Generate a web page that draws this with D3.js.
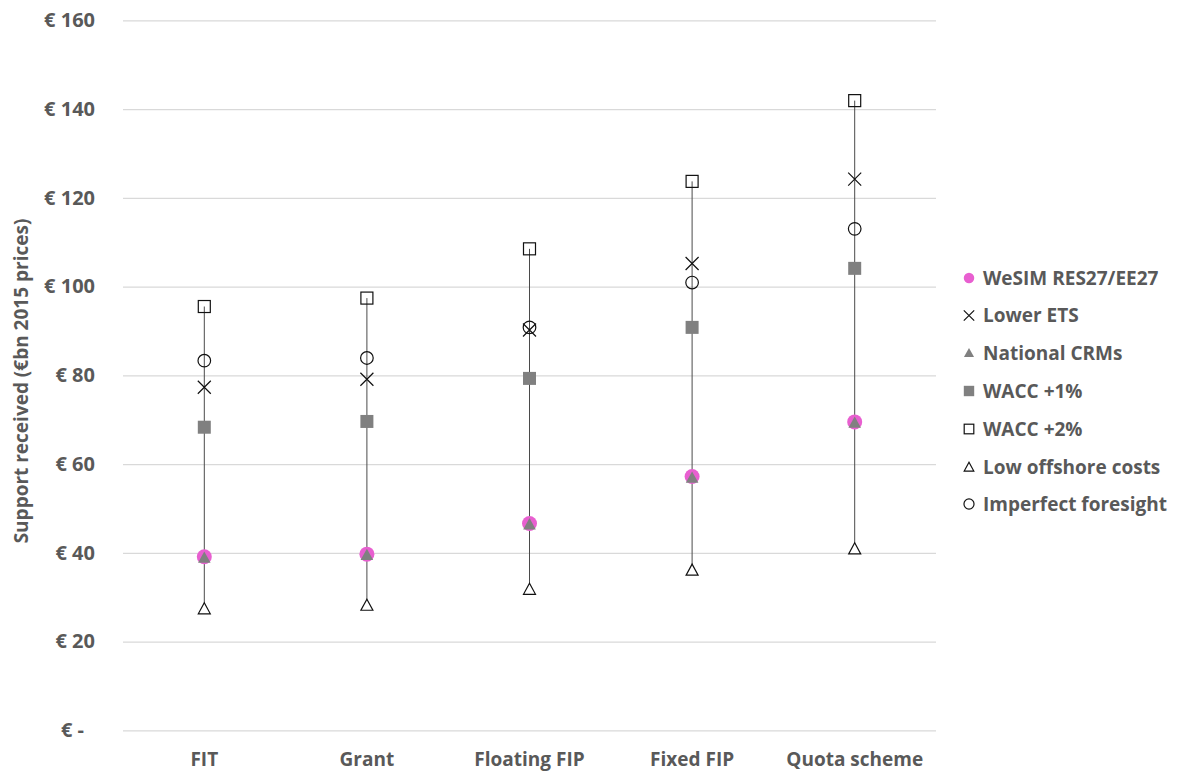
<!DOCTYPE html>
<html>
<head>
<meta charset="utf-8">
<script src="https://cdn.jsdelivr.net/npm/d3@7"></script>
<style>
  html, body { margin: 0; padding: 0; background: #fff; }
  svg { display: block; }
  text { font-family: "Open Sans", "DejaVu Sans", sans-serif; font-weight: 700; fill: #595959; }
</style>
</head>
<body>
<svg id="chart" width="1180" height="771"></svg>
<script>
// Support schemes compared across sensitivity scenarios
const categories = ["FIT", "Grant", "Floating FIP", "Fixed FIP", "Quota scheme"];

const wesim        = [39.1, 39.7, 46.6, 57.2, 69.5];
const lowerEts     = [77.3, 79.1, 90.2, 105.2, 124.2];
const nationalCrms = [38.9, 39.5, 46.4, 56.9, 69.3];
const wacc1        = [68.3, 69.6, 79.3, 90.8, 104.1];
const wacc2        = [95.5, 97.4, 108.5, 123.7, 141.9];
const lowOffshore  = [27.4, 28.2, 31.8, 36.1, 40.9];
const imperfect    = [83.3, 83.9, 90.8, 100.9, 113.0];

const yTicks = [0, 20, 40, 60, 80, 100, 120, 140, 160];

const series = [
  { name: "WeSIM RES27/EE27",     values: wesim,        symbol: "pinkCircle" },
  { name: "Lower ETS",            values: lowerEts,     symbol: "cross" },
  { name: "National CRMs",        values: nationalCrms, symbol: "greyTriangle" },
  { name: "WACC +1%",             values: wacc1,        symbol: "greySquare" },
  { name: "WACC +2%",             values: wacc2,        symbol: "openSquare" },
  { name: "Low offshore costs",   values: lowOffshore,  symbol: "openTriangle" },
  { name: "Imperfect foresight",  values: imperfect,    symbol: "openCircle" }
];

const svg = d3.select("#chart");
const plotLeft = 123, plotRight = 936, plotTop = 20.3, plotBottom = 730.3;

const x = d3.scaleBand().domain(categories).range([plotLeft, plotRight]);
const y = d3.scaleLinear().domain([0, 160]).range([plotBottom, plotTop]);

// Horizontal gridlines
svg.append("g")
  .attr("transform", `translate(${plotLeft},0)`)
  .call(d3.axisLeft(y).tickValues(yTicks).tickSize(-(plotRight - plotLeft)).tickFormat(""))
  .call(g => g.select(".domain").remove())
  .call(g => g.selectAll("line").attr("stroke", "#d9d9d9").attr("stroke-width", 1.3));

// Y tick labels (accounting style, zero shown as a dash)
svg.append("g")
  .attr("transform", `translate(${plotLeft},0)`)
  .call(d3.axisLeft(y).tickValues(yTicks).tickSize(0).tickPadding(28)
    .tickFormat(d => d === 0 ? "€ -" : "€ " + d))
  .call(g => g.select(".domain").remove())
  .call(g => g.selectAll("text")
    .attr("fill", "#595959").attr("font-size", 20)
    .attr("font-family", "Open Sans").attr("font-weight", 700)
    .attr("dx", d => d === 0 ? -11 : 0));

// X category labels
svg.append("g")
  .attr("transform", `translate(0,${plotBottom})`)
  .call(d3.axisBottom(x).tickSize(0).tickPadding(22))
  .call(g => g.select(".domain").remove())
  .call(g => g.selectAll("text")
    .attr("fill", "#595959").attr("font-size", 19)
    .attr("font-family", "Open Sans").attr("font-weight", 700));

// Y axis title
svg.append("text")
  .attr("transform", `translate(28,381) rotate(-90)`)
  .attr("text-anchor", "middle")
  .attr("font-size", 19)
  .text("Support received (€bn 2015 prices)");

// High-low range lines
const ranges = categories.map((c, i) => {
  const vals = series.map(s => s.values[i]);
  return { cat: c, lo: d3.min(vals), hi: d3.max(vals) };
});
svg.append("g").selectAll("line").data(ranges).join("line")
  .attr("x1", d => x(d.cat) + x.bandwidth() / 2)
  .attr("x2", d => x(d.cat) + x.bandwidth() / 2)
  .attr("y1", d => y(d.hi))
  .attr("y2", d => y(d.lo))
  .attr("stroke", "#4a4a4a")
  .attr("stroke-width", 1);

// Marker drawing
function drawMarker(g, symbol, s) {
  // s = scale factor (1 in plot, smaller in legend)
  switch (symbol) {
    case "pinkCircle":
      g.append("circle").attr("r", 7.5 * s).attr("fill", "#e85fd0");
      break;
    case "cross": {
      const h = 6.5 * s;
      g.append("path").attr("d", `M${-h},${-h}L${h},${h}M${-h},${h}L${h},${-h}`)
        .attr("stroke", "#111").attr("stroke-width", 1.2).attr("fill", "none");
      break;
    }
    case "greyTriangle": {
      const w = 6.3 * s;
      g.append("path").attr("d", `M0,${-w}L${w},${w * 0.8}L${-w},${w * 0.8}Z`)
        .attr("fill", "#808080");
      break;
    }
    case "greySquare": {
      const h = 6.5 * s;
      g.append("rect").attr("x", -h).attr("y", -h).attr("width", 2 * h).attr("height", 2 * h)
        .attr("fill", "#808080");
      break;
    }
    case "openSquare": {
      const h = 6 * s;
      g.append("rect").attr("x", -h).attr("y", -h).attr("width", 2 * h).attr("height", 2 * h)
        .attr("fill", "none").attr("stroke", "#111").attr("stroke-width", 1.2);
      break;
    }
    case "openTriangle": {
      const w = 6 * s;
      g.append("path").attr("d", `M0,${-w}L${w},${w * 0.85}L${-w},${w * 0.85}Z`)
        .attr("fill", "#fff").attr("stroke", "#111").attr("stroke-width", 1.2);
      break;
    }
    case "openCircle":
      g.append("circle").attr("r", 6.3 * s)
        .attr("fill", "none").attr("stroke", "#111").attr("stroke-width", 1.2);
      break;
  }
}

// Points for each scenario
series.forEach(sr => {
  const g = svg.append("g");
  sr.values.forEach((v, i) => {
    const m = g.append("g")
      .attr("transform", `translate(${x(categories[i]) + x.bandwidth() / 2},${y(v)})`);
    drawMarker(m, sr.symbol, 1);
  });
});

// Legend
const legendY = [278, 315.5, 353, 391, 429, 467, 504];
const legend = svg.append("g");
series.forEach((sr, i) => {
  const row = legend.append("g").attr("transform", `translate(969,${legendY[i]})`);
  drawMarker(row.append("g"), sr.symbol, sr.symbol === "pinkCircle" ? 0.7 : 0.8);
  row.append("text")
    .attr("x", 14)
    .attr("dy", "0.35em")
    .attr("font-size", 19)
    .text(sr.name);
});
</script>
</body>
</html>
